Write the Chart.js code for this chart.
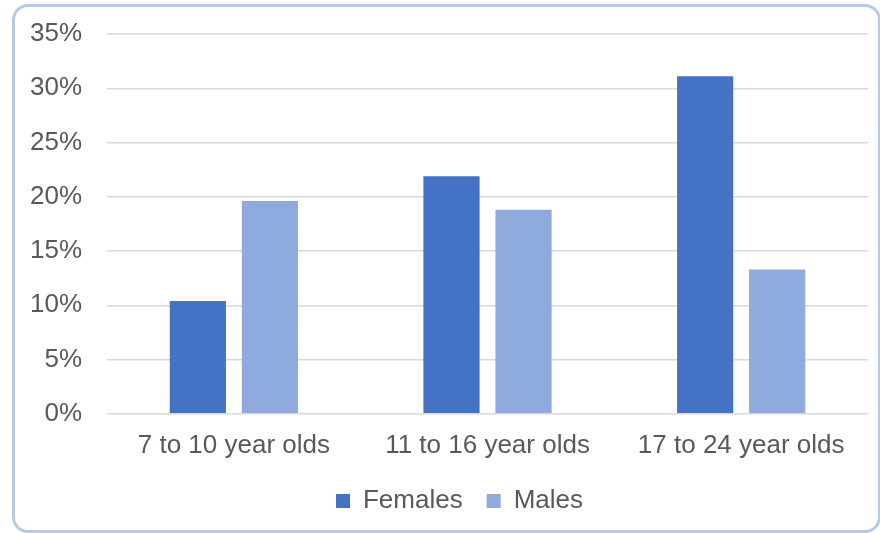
<!DOCTYPE html>
<html>
<head>
<meta charset="utf-8">
<script src="https://cdn.jsdelivr.net/npm/chart.js@4"></script>
<style>
  html, body { margin: 0; padding: 0; background: #fff; }
  #wrap { position: relative; width: 880px; height: 533px; overflow: hidden; }
  #frame {
    position: absolute; left: 12px; top: 4px; width: 863px; height: 523px;
    border: 3px solid #b7c9e8; border-radius: 16px;
  }
  #box { position: absolute; left: 0; top: 0; width: 880px; height: 533px; }
</style>
</head>
<body>
<div id="wrap">
  <div id="frame"></div>
  <div id="box"><canvas id="myChart"></canvas></div>
</div>
<script>
const categories = ['7 to 10 year olds', '11 to 16 year olds', '17 to 24 year olds'];
const females = [10.4, 21.9, 31.1];
const males = [19.6, 18.8, 13.3];

const ctx = document.getElementById('myChart');

// shift the legend row a little to the right, like the original
const nudgeLegend = {
  id: 'nudgeLegend',
  afterLayout(chart) {
    chart.legend.left += 23;
    chart.legend.right += 23;
  }
};

var graphData = {
  type: 'bar',
  data: {
    labels: categories,
    datasets: [
      {
        label: 'Females',
        data: females,
        backgroundColor: '#4472c4',
        borderWidth: 0,
        categoryPercentage: 0.568,
        barPercentage: 0.78,
      },
      {
        label: 'Males',
        data: males,
        backgroundColor: '#8faadc',
        borderWidth: 0,
        categoryPercentage: 0.568,
        barPercentage: 0.78,
      },
    ]
  },
  options: {
    animation: false,
    responsive: true,
    maintainAspectRatio: false,
    layout: {
      padding: { left: 5, right: 12, top: 34, bottom: 9 }
    },
    plugins: {
      tooltip: { enabled: false },
      legend: {
        position: 'bottom',
        labels: {
          color: '#595959',
          font: { family: 'Liberation Sans', size: 26 },
          boxWidth: 14,
          boxHeight: 14,
          padding: 24,
        }
      }
    },
    scales: {
      x: {
        grid: { display: false },
        border: { display: false },
        ticks: {
          color: '#595959',
          font: { family: 'Liberation Sans', size: 26 },
          padding: 8,
          maxRotation: 0,
        },
        afterFit: function(scale) {
          scale.height -= 5;
        }
      },
      y: {
        min: 0,
        max: 35,
        border: { display: false },
        grid: { color: '#d9d9d9', lineWidth: 1.5, drawTicks: false },
        ticks: {
          stepSize: 5,
          color: '#595959',
          font: { family: 'Liberation Sans', size: 26 },
          padding: 25,
          callback: function(v) { return v + '%'; }
        },
        afterFit: function(scale) {
          scale.paddingTop = 0;
          scale.paddingBottom = 0;
        }
      }
    }
  },
  plugins: [nudgeLegend]
};

var myChart = new Chart(ctx, graphData);
</script>
</body>
</html>
